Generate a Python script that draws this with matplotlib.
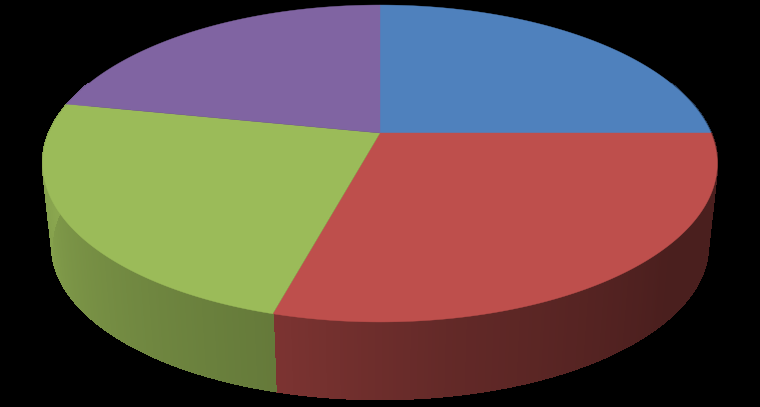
import numpy as np
import matplotlib
matplotlib.use('Agg')
import matplotlib.pyplot as plt
from matplotlib.collections import PolyCollection

categories = ['Blue', 'Red', 'Green', 'Purple']
values = [25.0, 29.25, 23.9, 21.85]
colors = ['#4f81bd', '#be4f4c', '#9bbb59', '#8064a2']

# wall shading against angle (degrees clockwise from the top)
shade_angles = [60, 130, 170, 195, 270, 300]
shade_levels = [0.39, 0.39, 0.52, 0.65, 0.89, 0.89]

# perspective of the disc
k = 0.1924
top = dict(cx=380.0, cy=133.0, a=331.0, b=152.6)
low = dict(cx=380.0, cy=216.0, a=322.0, b=148.0)


def project(deg, p):
    t = np.radians(deg)
    w = 1 + k * np.cos(t)
    return p['cx'] + p['a'] * np.sin(t) / w, p['cy'] - p['b'] * np.cos(t) / w


fig = plt.figure(figsize=(7.6, 4.07), dpi=100, facecolor='black')
ax = fig.add_axes([0, 0, 1, 1])
ax.set_xlim(0, 760)
ax.set_ylim(407, 0)
ax.axis('off')

edges = np.cumsum([0.0] + values) / sum(values) * 360

# side wall first, the top goes over it
for i in range(len(values)):
    start = max(edges[i], 70)
    end = min(edges[i + 1], 290)
    if end <= start:
        continue
    steps = np.linspace(start, end, int(end - start) * 2 + 2)
    polys = []
    cols = []
    base = np.array(matplotlib.colors.to_rgb(colors[i]))
    for a0, a1 in zip(steps[:-1], steps[1:]):
        x0, y0 = project(a0, top)
        x1, y1 = project(a1, top)
        x2, y2 = project(a1, low)
        x3, y3 = project(a0, low)
        polys.append([(x0, y0), (x1, y1), (x2, y2), (x3, y3)])
        cols.append(base * np.interp((a0 + a1) / 2, shade_angles, shade_levels))
    ax.add_collection(PolyCollection(polys, facecolors=cols, edgecolors=cols,
                                     linewidths=0.8, antialiaseds=False))

# top face
for i in range(len(values)):
    steps = np.linspace(edges[i], edges[i + 1], 200)
    x, y = project(steps, top)
    ax.fill(np.r_[top['cx'], x], np.r_[top['cy'], y], color=colors[i], lw=0.3)

fig.savefig('out.png', dpi=100, facecolor='black')
